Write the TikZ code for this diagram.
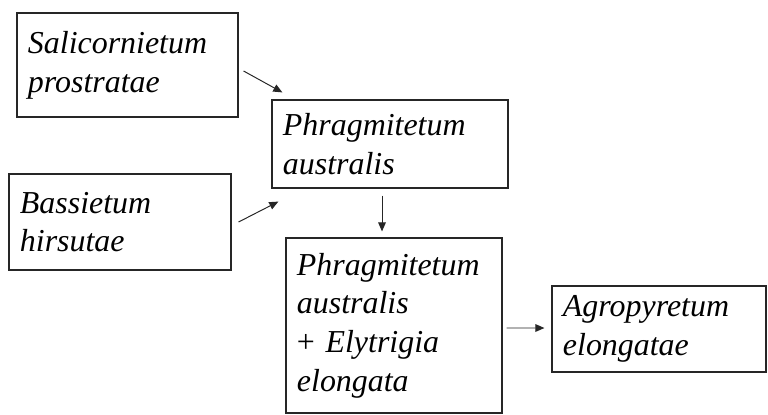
\documentclass[tikz,border=0pt]{standalone}
\usepackage{fontspec}
\setmainfont{Liberation Serif}
\usetikzlibrary{arrows.meta}

\begin{document}
\begin{tikzpicture}[
	x=0.025cm, y=-0.025cm,
	every node/.style={font=\fontsize{22.7}{27.5}\selectfont\itshape},
	assoc/.style={rectangle, draw=black!85, line width=0.8pt, align=left, inner xsep=11*0.025cm, inner ysep=0pt},
	succession/.style={-{Triangle[length=6.5pt, width=5.5pt]}, line width=0.7pt, black!85}
	]
	
	\useasboundingbox (0,0) rectangle (768,414);
	
	% Associations
	\node[assoc, minimum width=5.525cm, minimum height=2.6cm, text width=5.525cm-22*0.025cm] (salic) at (127.5, 65) {Salicornietum\\prostratae};
	\node[assoc, minimum width=5.9cm, minimum height=2.2cm, text width=5.9cm-22*0.025cm] (phrag) at (390, 144) {Phragmitetum\\australis};
	\node[assoc, minimum width=5.55cm, minimum height=2.4cm, text width=5.55cm-22*0.025cm] (bass) at (120, 222) {Bassietum\\hirsutae};
	\node[assoc, minimum width=5.4cm, minimum height=4.375cm, text width=5.4cm-22*0.025cm] (mix) at (394, 325.5) {Phragmitetum\\australis\\\upshape+ \itshape Elytrigia\\elongata};
	\node[assoc, minimum width=5.35cm, minimum height=2.15cm, text width=5.35cm-22*0.025cm] (agro) at (659, 329) {Agropyretum\\elongatae};
	
	% Successions
	\draw[succession] ([shift={(5,6)}]salic.east) -- ([shift={(11,-7)}]phrag.north west);
	\draw[succession] ([shift={(7,0)}]bass.east) -- ([shift={(7,13)}]phrag.south west);
	\draw[succession] ([shift={(-8,7)}]phrag.south) -- ([shift={(-12,-6)}]mix.north);
	\draw[succession] ([shift={(4,2.5)}]mix.east) -- ([shift={(-7,-1)}]agro.west);
	
\end{tikzpicture}
\end{document}
